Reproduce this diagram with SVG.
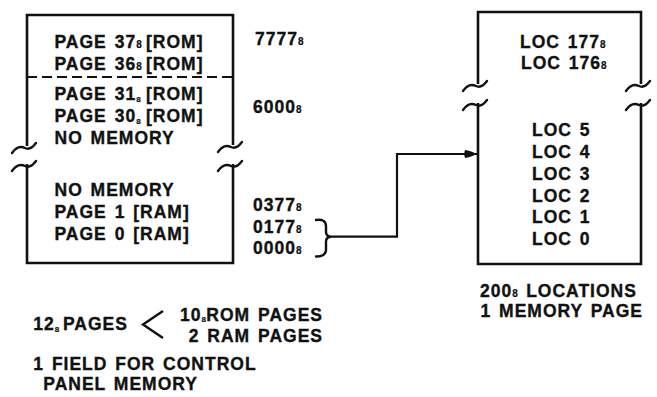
<svg xmlns="http://www.w3.org/2000/svg" width="657" height="397" viewBox="0 0 657 397">
<style>
  .edge { fill: none; stroke: #111; stroke-width: 2.6; stroke-linecap: butt; stroke-linejoin: miter; }
  .brk { fill: none; stroke: #111; stroke-width: 2.4; stroke-linecap: round; }
  .dash { fill: none; stroke: #111; stroke-width: 2.2; stroke-dasharray: 10 5; }
  .wire { fill: none; stroke: #111; stroke-width: 2.2; }
  text { font-family: "Liberation Sans", Arial, sans-serif; font-weight: bold; font-size: 17.5px; letter-spacing: 1px; word-spacing: 2px; fill: #111; stroke: #111; stroke-width: 0.35px; }
  .sub { font-size: 10px; letter-spacing: 0.5px; stroke-width: 0.2px; }
  .sublow { font-size: 8px; letter-spacing: 0.5px; stroke-width: 0.2px; }
</style>
<defs>
  <path id="tilde" d="M-15,7 C-11,1 -6,0 -2,2 C2,4 6,1 9,-3"/>
  <marker id="arr" markerWidth="14" markerHeight="10" refX="13" refY="5" orient="auto" markerUnits="userSpaceOnUse">
    <path d="M1,1 Q6,1.5 13,5 Q6,8.5 1,9 Q-0.5,5 1,1 Z" fill="#111"/>
  </marker>
</defs>

<g id="node-pages">
  <path class="edge" d="M27,146 L27,15 L233,15 L233,145"/>
  <path class="edge" d="M27,164 L27,263 L233,263 L233,164"/>
  <use href="#tilde" class="brk" x="27" y="146"/>
  <use href="#tilde" class="brk" x="27" y="164"/>
  <use href="#tilde" class="brk" x="233" y="145"/>
  <use href="#tilde" class="brk" x="233" y="164"/>
  <line class="dash" x1="27" y1="77" x2="233" y2="77"/>
  <text x="54.5" y="48">PAGE 37<tspan class="sub">8</tspan><tspan x="146">[ROM]</tspan></text>
  <text x="54.5" y="70">PAGE 36<tspan class="sub">8</tspan><tspan x="146">[ROM]</tspan></text>
  <text x="54.5" y="100">PAGE 31<tspan class="sublow" dy="2">8</tspan><tspan x="146" dy="-2">[ROM]</tspan></text>
  <text x="54.5" y="122">PAGE 30<tspan class="sublow" dy="2">8</tspan><tspan x="146" dy="-2">[ROM]</tspan></text>
  <text x="54.5" y="143.5">NO MEMORY</text>
  <text x="54.5" y="196">NO MEMORY</text>
  <text x="54.5" y="218">PAGE 1 [RAM]</text>
  <text x="54.5" y="240">PAGE 0 [RAM]</text>
</g>

<g id="addresses">
  <text x="255" y="45">7777<tspan class="sub">8</tspan></text>
  <text x="253" y="113">6000<tspan class="sub">8</tspan></text>
  <text x="253" y="211">0377<tspan class="sub">8</tspan></text>
  <text x="253" y="232.5">0177<tspan class="sub">8</tspan></text>
  <text x="253" y="254">0000<tspan class="sub">8</tspan></text>
</g>

<g id="node-locations">
  <path class="edge" d="M478,84 L478,12 L641,12 L641,84"/>
  <path class="edge" d="M478,103 L478,264 L641,264 L641,103"/>
  <use href="#tilde" class="brk" x="478" y="84"/>
  <use href="#tilde" class="brk" x="478" y="103"/>
  <use href="#tilde" class="brk" x="641" y="84"/>
  <use href="#tilde" class="brk" x="641" y="103"/>
  <text x="520" y="47.5">LOC 177<tspan class="sub">8</tspan></text>
  <text x="521" y="68.5">LOC 176<tspan class="sub">8</tspan></text>
  <text x="532" y="136">LOC 5</text>
  <text x="532" y="158">LOC 4</text>
  <text x="532" y="180">LOC 3</text>
  <text x="532" y="201.5">LOC 2</text>
  <text x="532" y="223">LOC 1</text>
  <text x="532" y="245">LOC 0</text>
</g>

<g id="connectors">
  <path class="brk" d="M316,220 C322,219 326,221 326,226 L326,232 C326,235 328,236.5 331,236.7 C328,237 326,238.5 326,241.5 L326,250 C326,254 322,257 316,256.5"/>
  <path class="wire" d="M331,236.7 L397,236.7 L397,154 L477,154" marker-end="url(#arr)"/>
</g>

<g id="notes">
  <text x="480" y="296.5">200<tspan class="sub">8</tspan> LOCATIONS</text>
  <text x="480.5" y="316.5">1 MEMORY PAGE</text>
  <text x="33.3" y="330">12<tspan class="sublow" dy="2">8</tspan><tspan x="63" dy="-2">PAGES</tspan></text>
  <polyline class="wire" points="163,311 143,324.5 163,338" style="stroke-width:2.4"/>
  <text x="323" y="320.5" text-anchor="end">10<tspan class="sublow" dy="1">8</tspan><tspan dy="-1">ROM PAGES</tspan></text>
  <text x="323" y="342" text-anchor="end">2 RAM PAGES</text>
  <text x="33.3" y="370">1 FIELD FOR CONTROL</text>
  <text x="43.3" y="390">PANEL MEMORY</text>
</g>
</svg>
